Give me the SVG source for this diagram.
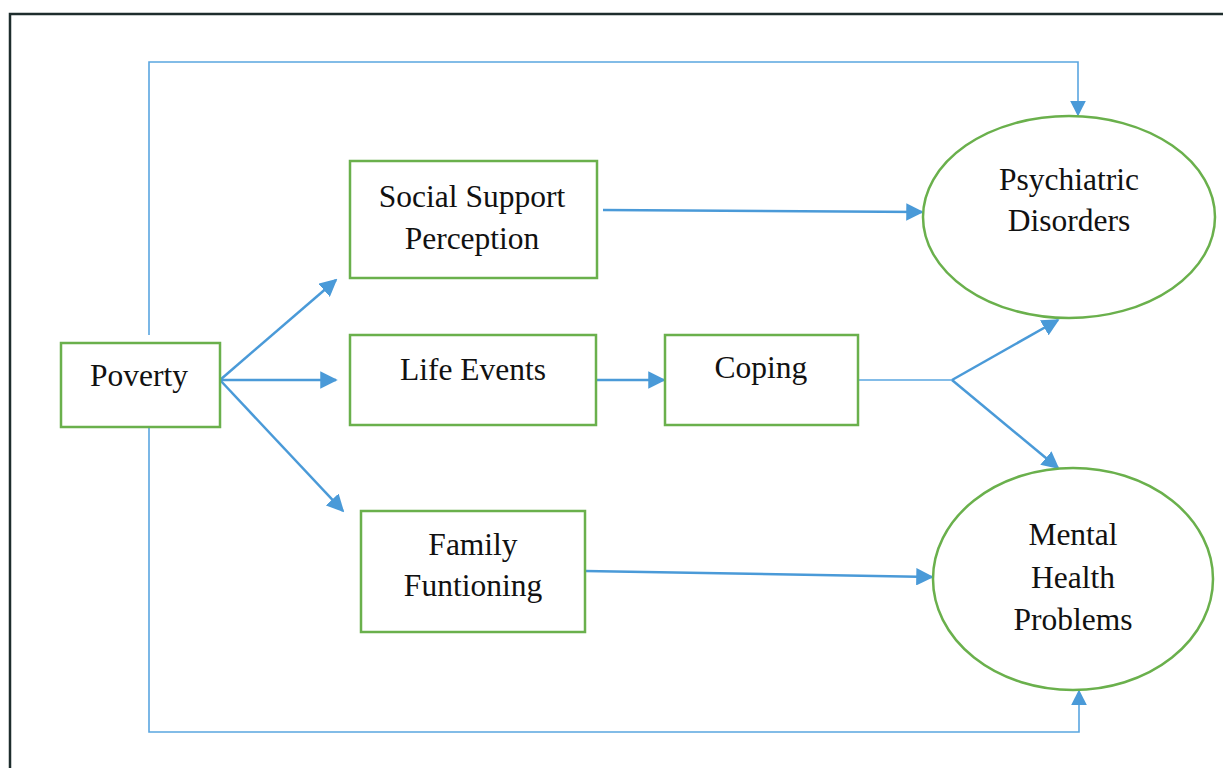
<svg xmlns="http://www.w3.org/2000/svg" width="1223" height="768" viewBox="0 0 1223 768">
<style>
.box{fill:#fff;stroke:#6ab04c;stroke-width:2.5}
.t{font-family:"Liberation Serif","Times New Roman",serif;font-size:31.5px;fill:#111;text-anchor:middle}
.c{fill:none;stroke:#4a9ad8;stroke-width:2.5}
.thin{fill:none;stroke:#5aa6e0;stroke-width:1.6}
</style>
<defs>
<marker id="ah" viewBox="0 0 10 10" refX="9" refY="5" markerWidth="7" markerHeight="7" markerUnits="strokeWidth" orient="auto">
<path d="M0,0 L10,5 L0,10 Z" fill="#4a9ad8"/>
</marker>
<marker id="ah2" viewBox="0 0 10 10" refX="9" refY="5" markerWidth="10" markerHeight="10" markerUnits="strokeWidth" orient="auto">
<path d="M0,0 L10,5 L0,10 Z" fill="#4a9ad8"/>
</marker>
</defs>
<rect x="0" y="0" width="1223" height="768" fill="#fff"/>
<path d="M10,770 L10,14 L1225,14" fill="none" stroke="#1e2d2d" stroke-width="2.5"/>
<g id="connectors">
<path class="thin" d="M149,335 L149,62 L1078,62 L1078,115" marker-end="url(#ah2)"/>
<path class="thin" d="M149,428 L149,732 L1079,732 L1079,691" marker-end="url(#ah2)"/>
<path class="c" d="M220,380 L336,280" marker-end="url(#ah)"/>
<path class="c" d="M220,380 L336,380" marker-end="url(#ah)"/>
<path class="c" d="M220,380 L343,511" marker-end="url(#ah)"/>
<path class="c" d="M603,210 L922,212" marker-end="url(#ah)"/>
<path class="c" d="M596,380 L664,380" marker-end="url(#ah)"/>
<path class="thin" d="M858,380 L952,380"/>
<path class="c" d="M952,380 L1058,320" marker-end="url(#ah)"/>
<path class="c" d="M952,380 L1058,468" marker-end="url(#ah)"/>
<path class="c" d="M585,571 L932,577" marker-end="url(#ah)"/>
</g>
<g id="poverty"><rect class="box" x="61" y="343" width="159" height="84"/><text class="t" x="139" y="386">Poverty</text></g>
<g id="social"><rect class="box" x="350" y="161" width="247" height="117"/><text class="t" x="472" y="207">Social Support</text><text class="t" x="472" y="249">Perception</text></g>
<g id="life"><rect class="box" x="350" y="335" width="246" height="90"/><text class="t" x="473" y="380">Life Events</text></g>
<g id="coping"><rect class="box" x="665" y="335" width="193" height="90"/><text class="t" x="761" y="378">Coping</text></g>
<g id="family"><rect class="box" x="361" y="511" width="224" height="121"/><text class="t" x="473" y="555">Family</text><text class="t" x="473" y="596">Funtioning</text></g>
<g id="psychiatric"><ellipse class="box" cx="1069" cy="217" rx="146" ry="101"/><text class="t" x="1069" y="190">Psychiatric</text><text class="t" x="1069" y="231">Disorders</text></g>
<g id="mental"><ellipse class="box" cx="1073" cy="579" rx="140" ry="111"/><text class="t" x="1073" y="545">Mental</text><text class="t" x="1073" y="588">Health</text><text class="t" x="1073" y="630">Problems</text></g>
</svg>
